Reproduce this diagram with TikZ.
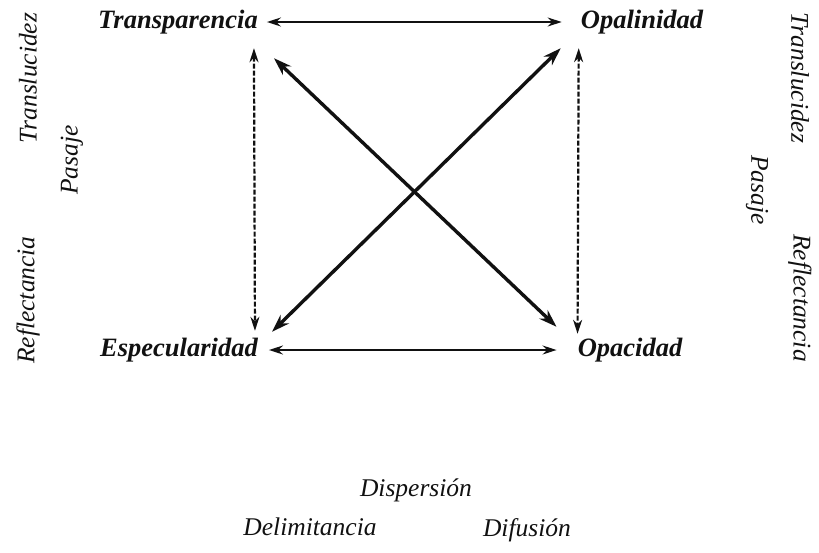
\documentclass[tikz,border=0pt]{standalone}
\usepackage{fontspec}
\setmainfont{Liberation Serif}
\usepackage{xcolor}
\definecolor{vizInk}{HTML}{111111}
\usetikzlibrary{arrows.meta}
\tikzset{
  vizCorner/.style={inner sep=3pt, text=vizInk, font=\fontsize{26.5}{30}\selectfont\bfseries\itshape},
  vizTerm/.style={inner sep=3pt, text=vizInk, font=\fontsize{25.5}{29}\selectfont\itshape},
  vizPair/.style={vizInk, line width=1.7pt, {Stealth[length=14pt, width=9pt]}-{Stealth[length=14pt, width=9pt]}},
  vizPass/.style={vizInk, line width=2.2pt, dash pattern=on 5pt off 2pt, {Stealth[length=14pt, width=9pt]}-{Stealth[length=14pt, width=9pt]}},
  vizCross/.style={vizInk, line width=3.4pt, {Stealth[length=18pt, width=12pt]}-{Stealth[length=18pt, width=12pt]}}
}

\begin{document}
\begin{tikzpicture}[x=1pt, y=-1pt]
  \useasboundingbox (0,0) rectangle (819,552);
  \node[vizCorner] (trans) at (178,22) {Transparencia};
  \node[vizCorner] (opal) at (642,22) {Opalinidad};
  \node[vizCorner] (espec) at (179,350) {Especularidad};
  \node[vizCorner] (opac) at (630,350) {Opacidad};
  \node[vizTerm, rotate=90] (translL) at (28,78) {Translucidez};
  \node[vizTerm, rotate=90] (reflL) at (28,300) {Reflectancia};
  \node[vizTerm, rotate=90] (pasajeL) at (72,160) {Pasaje};
  \node[vizTerm, rotate=-90] (translR) at (800,78) {Translucidez};
  \node[vizTerm, rotate=-90] (pasajeR) at (757,190) {Pasaje};
  \node[vizTerm, rotate=-90] (reflR) at (800,298) {Reflectancia};
  \node[vizTerm] (disp) at (416,490) {Dispersión};
  \node[vizTerm] (delim) at (310,527) {Delimitancia};
  \node[vizTerm] (difus) at (527,530) {Difusión};
  \draw[vizPair] ([xshift=6pt]trans.east) -- ([xshift=-16pt]opal.west);
  \draw[vizPair] ([xshift=8pt]espec.east) -- ([xshift=-18pt]opac.west);
  \draw[vizPass] ([xshift=-7pt, yshift=-11pt]trans.south east) -- ([xshift=-6pt, yshift=4pt]espec.north east);
  \draw[vizPass] ([xshift=1pt, yshift=-11pt]opal.south west) -- ([xshift=3pt, yshift=1pt]opac.north west);
  \draw[vizCross] ([xshift=13pt, yshift=-21pt]trans.south east) -- ([xshift=-18pt, yshift=8pt]opac.north west);
  \draw[vizCross] ([xshift=-17pt, yshift=-11pt]opal.south west) -- ([xshift=11pt, yshift=3pt]espec.north east);
\end{tikzpicture}
\end{document}
